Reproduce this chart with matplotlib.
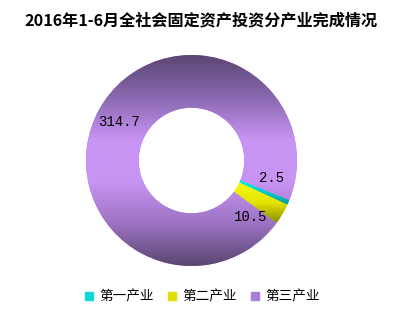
import numpy as np
import matplotlib.pyplot as plt
from matplotlib.colors import LinearSegmentedColormap
from matplotlib.lines import Line2D

plt.rcParams['font.family'] = ['Noto Sans CJK SC', 'DejaVu Sans']

# ================= DATA =================
title = "2016年1-6月全社会固定资产投资分产业完成情况"
categories = ["第一产业", "第二产业", "第三产业"]
values = [2.5, 10.5, 314.7]
value_labels = ["2.5", "10.5", "314.7"]

# ================= STYLE =================
base_colors = ["#10d8d8", "#e0e000", "#a67fd6"]
gradients = [
    ["#00f4f4", "#00c8c8", "#009a9a"],
    ["#fafa10", "#e4e400", "#8a8a00"],
    ["#5a4672", "#8a68b0", "#c894f4", "#c894f4", "#9c72c2", "#5a4670"],
]
label_offsets = [11, -13, 1]   # degrees, nudges labels of thin slices apart
label_radius = 0.78

fig = plt.figure(figsize=(4.11, 3.12), dpi=100)
W, H = 411, 312
cx, cy, r = 191.5, 160.5, 105.5
ax = fig.add_axes([(cx - r) / W, (H - cy - r) / H, 2 * r / W, 2 * r / H])

wedges, _ = ax.pie(values, startangle=-22, counterclock=False,
                   colors=base_colors, radius=1,
                   wedgeprops=dict(width=0.5, linewidth=0))

# vertical shading inside each wedge
for w, stops in zip(wedges, gradients):
    cmap = LinearSegmentedColormap.from_list("g", stops[::-1])
    if len(stops) > 3:
        ext = [-1, 1, -1, 1]
    else:
        bb = w.get_path().get_extents()
        ext = [bb.x0, bb.x1, bb.y0, bb.y1]
    grad = np.linspace(0, 1, 256).reshape(-1, 1)
    im = ax.imshow(grad, cmap=cmap, extent=ext, origin="lower",
                   aspect="auto", zorder=1.5)
    im.set_clip_path(w)

# value labels
total = sum(values)
angle = -22.0
for v, txt, off in zip(values, value_labels, label_offsets):
    span = v / total * 360
    mid = np.deg2rad(angle - span / 2 + off)
    ax.text(label_radius * np.cos(mid), label_radius * np.sin(mid), txt,
            ha="center", va="center", fontsize=10,
            family=["Liberation Mono", "DejaVu Sans Mono"], color="#000000",
            zorder=3)
    angle -= span

ax.set_xlim(-1, 1)
ax.set_ylim(-1, 1)
ax.axis("off")

fig.text(201 / W, 1 - 20 / H, title, ha="center", va="center",
         fontsize=11.6, fontweight="bold")

handles = [Line2D([], [], marker="s", linestyle="none", markersize=6,
                  markerfacecolor=c, markeredgecolor=c) for c in base_colors]
fig.legend(handles, categories, loc="center", bbox_to_anchor=(201 / W, 15 / H),
           ncol=3, frameon=False, fontsize=9.8, handletextpad=0.3,
           columnspacing=0.8, handlelength=1.0)

fig.savefig("out.png", dpi=100)
